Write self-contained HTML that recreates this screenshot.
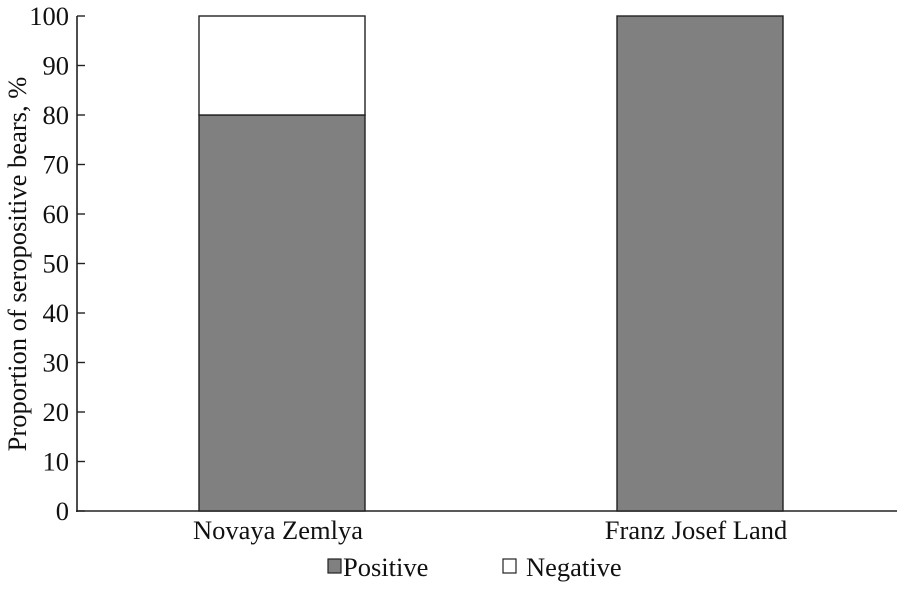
<!DOCTYPE html>
<html><head><meta charset="utf-8"><style>
body{margin:0;background:#fff;}
svg text{font-family:"Liberation Serif",serif;fill:#111;}
</style></head><body>
<svg id="c" width="907" height="584"></svg>
<script>
const categories=["Novaya Zemlya","Franz Josef Land"];
const positive=[80,100];
const negative=[20,0];
const yTicks=[0,10,20,30,40,50,60,70,80,90,100];
const NS="http://www.w3.org/2000/svg";
const svg=document.getElementById('c');
const x0=77,y0=511,yTop=16,xEnd=897;
const y=v=>y0-(y0-yTop)*v/100;
const centers=[282,700],bw=166;
const FS=26.5;
function mk(t,a,txt){const e=document.createElementNS(NS,t);for(const k in a)e.setAttribute(k,a[k]);if(txt!==undefined)e.textContent=txt;svg.appendChild(e);return e;}
let ax=mk('line',{x1:x0,y1:yTop,x2:x0,y2:y0+1,stroke:'#222','stroke-width':1.6});


let xa=mk('line',{x1:x0-1,y1:y0,x2:xEnd,y2:y0,stroke:'#222','stroke-width':1.6});


yTicks.forEach(v=>{
 let t=mk('line',{x1:x0,y1:y(v),x2:x0+8,y2:y(v),stroke:'#222','stroke-width':1.4});
 
 
 let l=mk('text',{x:x0-8,y:y(v)+9,'text-anchor':'end','font-size':FS},v);
 
 
});
categories.forEach((c,i)=>{
 const xl=centers[i]-bw/2;
 let p=mk('rect',{x:xl,y:y(positive[i]),width:bw,height:y(0)-y(positive[i]),fill:'#808080',stroke:'#222','stroke-width':1.4});
 
 
 if(negative[i]>0){
  let n=mk('rect',{x:xl,y:y(positive[i]+negative[i]),width:bw,height:y(positive[i])-y(positive[i]+negative[i]),fill:'#fff',stroke:'#222','stroke-width':1.4});
  
  
 }
 let l=mk('text',{x:centers[i]-4,y:539,'text-anchor':'middle','font-size':FS},c);
 
 
});
let yt=mk('text',{x:26,y:264,'text-anchor':'middle','font-size':FS,transform:'rotate(-90 26 264)'},'Proportion of seropositive bears, %');


let s1=mk('rect',{x:328,y:559,width:13,height:14,fill:'#808080',stroke:'#222','stroke-width':1.2});


let t1=mk('text',{x:343,y:576,'font-size':FS},'Positive');


let s2=mk('rect',{x:503,y:559,width:13,height:14,fill:'#fff',stroke:'#222','stroke-width':1.2});


let t2=mk('text',{x:526,y:576,'font-size':FS},'Negative');


</script>
</body></html>
